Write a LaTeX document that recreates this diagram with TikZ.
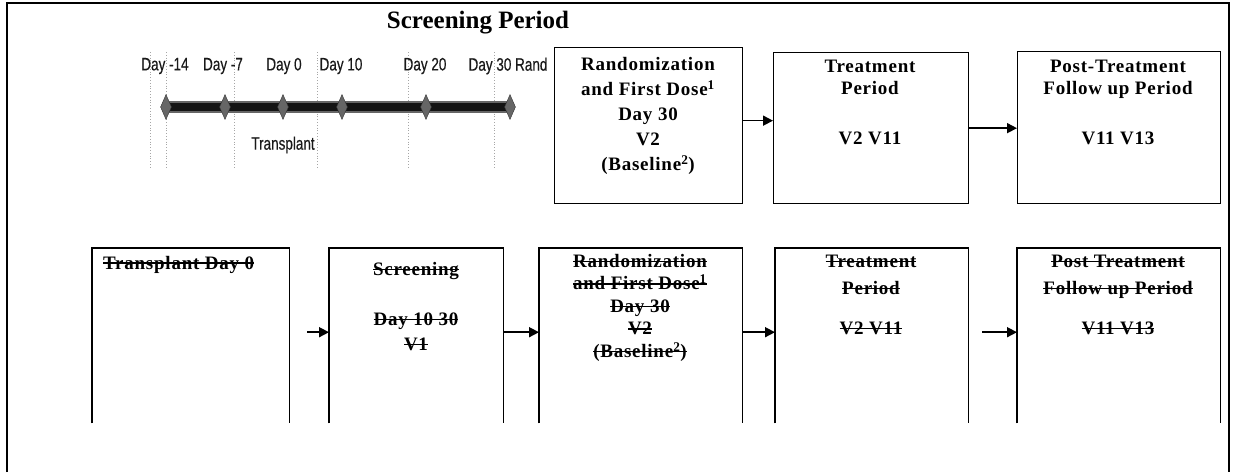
\documentclass[tikz,border=0pt]{standalone}
\usepackage{fontspec}
\setmainfont{Liberation Serif}
\newfontfamily\boxfont[LetterSpace=4]{Liberation Serif}
\newfontfamily\tlfont[FakeStretch=0.75,FakeBold=0.4]{Liberation Sans}
\newsavebox\strkbox
\newcommand{\strk}[1]{\sbox\strkbox{#1}\rlap{\usebox\strkbox}\rule[0.28em]{\wd\strkbox}{1.2pt}}
\usetikzlibrary{arrows.meta, shapes.geometric, positioning}

\begin{document}
\begin{tikzpicture}[x=1pt,y=-1pt,>={Triangle[length=10pt,width=10pt]},
    box/.style={draw,line width=1.3pt,inner sep=0pt,anchor=north west},
    openbox/.style={inner sep=0pt,anchor=north west,minimum height=175pt},
    btxt/.style={font=\boxfont\bfseries\fontsize{19}{25}\selectfont,align=center,anchor=north,inner sep=0pt},
    daylbl/.style={font=\tlfont\fontsize{18}{20}\selectfont,text=black!90},
    tick/.style={diamond,draw=black!80,fill=black!60,inner sep=0pt,minimum width=11pt,minimum height=25pt},
    guide/.style={black!35,dotted,line width=0.8pt},
    flow/.style={->,line width=1.6pt}]
  \useasboundingbox (0,0) rectangle (1236,472);
  \draw[line width=1.5pt] (7,472) -- (7,3) -- (1229,3) -- (1229,472);

  % screening timeline
  \node[font=\bfseries\fontsize{25}{28}\selectfont] (title) at (478,23) {Screening Period};
  \foreach \x in {150,166,234,317,408,494}
    \draw[guide] (\x,52) -- (\x,167);
  \foreach \i/\x in {1/166,2/225,3/283,4/342,5/426,6/510}
    \coordinate (t\i) at (\x,107);
  \draw[line width=12pt,black!60] (t1) -- (t6);
  \draw[line width=8pt,black!92] (t1) -- (t6);
  \foreach \i in {1,...,6}
    \node[tick] (d\i) at (t\i) {};
  \foreach \i/\x/\txt in {1/165/Day -14,2/223/Day -7,3/284/Day 0,4/341/Day 10,5/425/Day 20,6/508/Day 30 Rand}
    \node[daylbl] (lbl\i) at (\x,66) {\txt};
  \node[daylbl] (tx) at (283,145) {Transplant};

  % new schedule
  \node[box,minimum width=188pt,minimum height=156pt] (ra) at (554,47) {};
  \node[box,minimum width=195pt,minimum height=151pt] (rb) at (773,52) {};
  \node[box,minimum width=203pt,minimum height=152pt] (rc) at (1017,51) {};
  \node[btxt] (ta) at (648,57) {Randomization\\and First Dose\textsuperscript{1}\\Day 30\\V2\\(Baseline\textsuperscript{2})};
  \node[btxt,font=\boxfont\bfseries\fontsize{19}{22}\selectfont] (tb) at (870,60) {Treatment\\Period\\[28pt]V2 V11};
  \node[btxt,font=\boxfont\bfseries\fontsize{19}{22}\selectfont] (tc) at (1118,60) {Post-Treatment\\Follow up Period\\[28pt]V11 V13};
  \draw[flow] ([yshift=5pt]ra.east) -- ([yshift=5pt]ra.east -| rb.west);
  \draw[flow] (rb.east) -- (rb.east -| rc.west);

  % old schedule, struck out
  \node[openbox,minimum width=197pt] (b1) at (92,248) {};
  \node[openbox,minimum width=174pt] (b2) at (329,248) {};
  \node[openbox,minimum width=203pt] (b3) at (539,248) {};
  \node[openbox,minimum width=193pt] (b4) at (775,248) {};
  \node[openbox,minimum width=203pt] (b5) at (1017,248) {};
  \foreach \b in {b1,b2,b3,b4,b5}
    \draw[line width=1.3pt] (\b.south west) -- (\b.north west) -- (\b.north east) -- (\b.south east);
  \node[btxt,anchor=base west] (s1) at (103,269) {\strk{Transplant Day 0}};
  \node[btxt] (s2) at (416,262) {\strk{Screening}\\[25pt]\strk{Day 10 30}\\\strk{V1}};
  \node[btxt,font=\boxfont\bfseries\fontsize{19}{22.5}\selectfont] (s3) at (640,254) {\strk{Randomization}\\\strk{and First Dose\textsuperscript{1}}\\\strk{Day 30}\\\strk{V2}\\\strk{(Baseline\textsuperscript{2})}};
  \node[btxt,font=\boxfont\bfseries\fontsize{19}{27}\selectfont] (s4) at (871,255) {\strk{Treatment}\\\strk{Period}\\[13pt]\strk{V2 V11}};
  \node[btxt,font=\boxfont\bfseries\fontsize{19}{27}\selectfont] (s5) at (1118,255) {\strk{Post Treatment}\\\strk{Follow up Period}\\[13pt]\strk{V11 V13}};
  \draw[flow,shorten <=18pt] ([yshift=3.5pt]b1.east) -- ([yshift=3.5pt]b1.east -| b2.west);
  \draw[flow] ([yshift=3.5pt]b2.east) -- ([yshift=3.5pt]b2.east -| b3.west);
  \draw[flow] ([yshift=3.5pt]b3.east) -- ([yshift=3.5pt]b3.east -| b4.west);
  \draw[flow,shorten <=14pt] ([yshift=3.5pt]b4.east) -- ([yshift=3.5pt]b4.east -| b5.west);
\end{tikzpicture}
\end{document}
